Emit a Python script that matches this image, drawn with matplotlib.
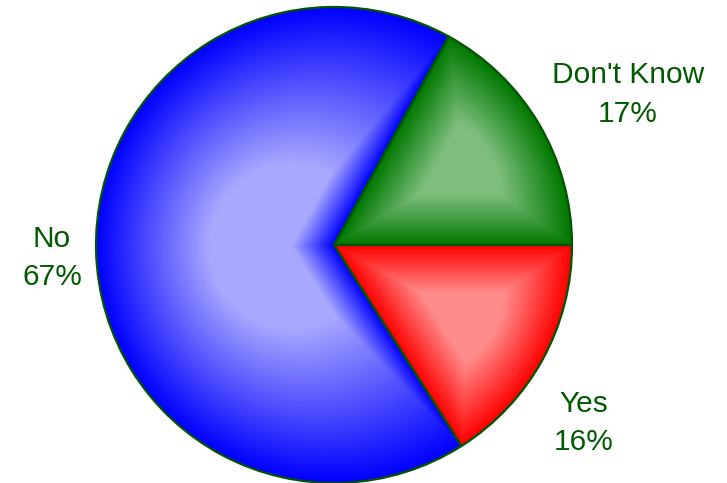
import numpy as np
import matplotlib
matplotlib.use('Agg')
import matplotlib.pyplot as plt
from matplotlib.patches import Polygon, PathPatch
from matplotlib.colors import to_rgb

# ---- data ----
labels = ["Yes", "No", "Don't Know"]
values = [16, 67, 17]

# ---- style ----
base_colors = ['#ff0000', '#0000ff', '#007800']
light_colors = ['#ff8c8c', '#a8a8ff', '#7dbe7d']
edge_color = '#005500'
text_color = '#005a00'
# label anchor (center x, baseline of line 1, baseline of line 2) in pixels
label_pos = [(584, 412, 450), (52, 247, 285), (628, 83, 122)]

W, H = 727, 483
fig = plt.figure(figsize=(W / 100, H / 100), dpi=100)
ax = fig.add_axes([0, 0, 1, 1])
cx, cy, R = 334, H - 245, 238

wedges, _ = ax.pie(values, colors=base_colors, startangle=0, counterclock=False,
                   center=(cx, cy), radius=R,
                   wedgeprops=dict(linewidth=0, zorder=1))

# bevel shading: nested copies of each wedge scaled about its centroid
for w, bc, lc in zip(wedges, base_colors, light_colors):
    b = np.array(to_rgb(bc))
    l = np.array(to_rgb(lc))
    poly = w.get_path().to_polygons()[0]
    x, y = poly[:, 0], poly[:, 1]
    x1, y1 = np.roll(x, -1), np.roll(y, -1)
    cross = x * y1 - x1 * y
    A = cross.sum() / 2
    Px = ((x + x1) * cross).sum() / (6 * A)
    Py = ((y + y1) * cross).sum() / (6 * A)
    n = 90
    for k in range(n):
        s = 1 - k / n
        t = 1 - s
        g = min(1.0, t / 0.65)
        col = (1 - g) * b + g * l
        ax.add_patch(Polygon(np.column_stack([Px + s * (x - Px), Py + s * (y - Py)]),
                             closed=True, facecolor=col, edgecolor='none',
                             zorder=2))
        if g >= 1:
            break

for w in wedges:
    ax.add_patch(PathPatch(w.get_path(), fill=False, edgecolor=edge_color,
                           lw=1.6, zorder=3, joinstyle='round'))

for lab, v, (px, b1, b2) in zip(labels, values, label_pos):
    ax.text(px, H - b1, lab, ha='center', va='baseline', fontsize=21.5,
            family='Liberation Sans', color=text_color)
    ax.text(px, H - b2, f"{v}%", ha='center', va='baseline', fontsize=21.5,
            family='Liberation Sans', color=text_color)

ax.set_xlim(0, W)
ax.set_ylim(0, H)
ax.set_aspect('equal')
ax.axis('off')
fig.savefig('out.png', dpi=100, facecolor='white')
